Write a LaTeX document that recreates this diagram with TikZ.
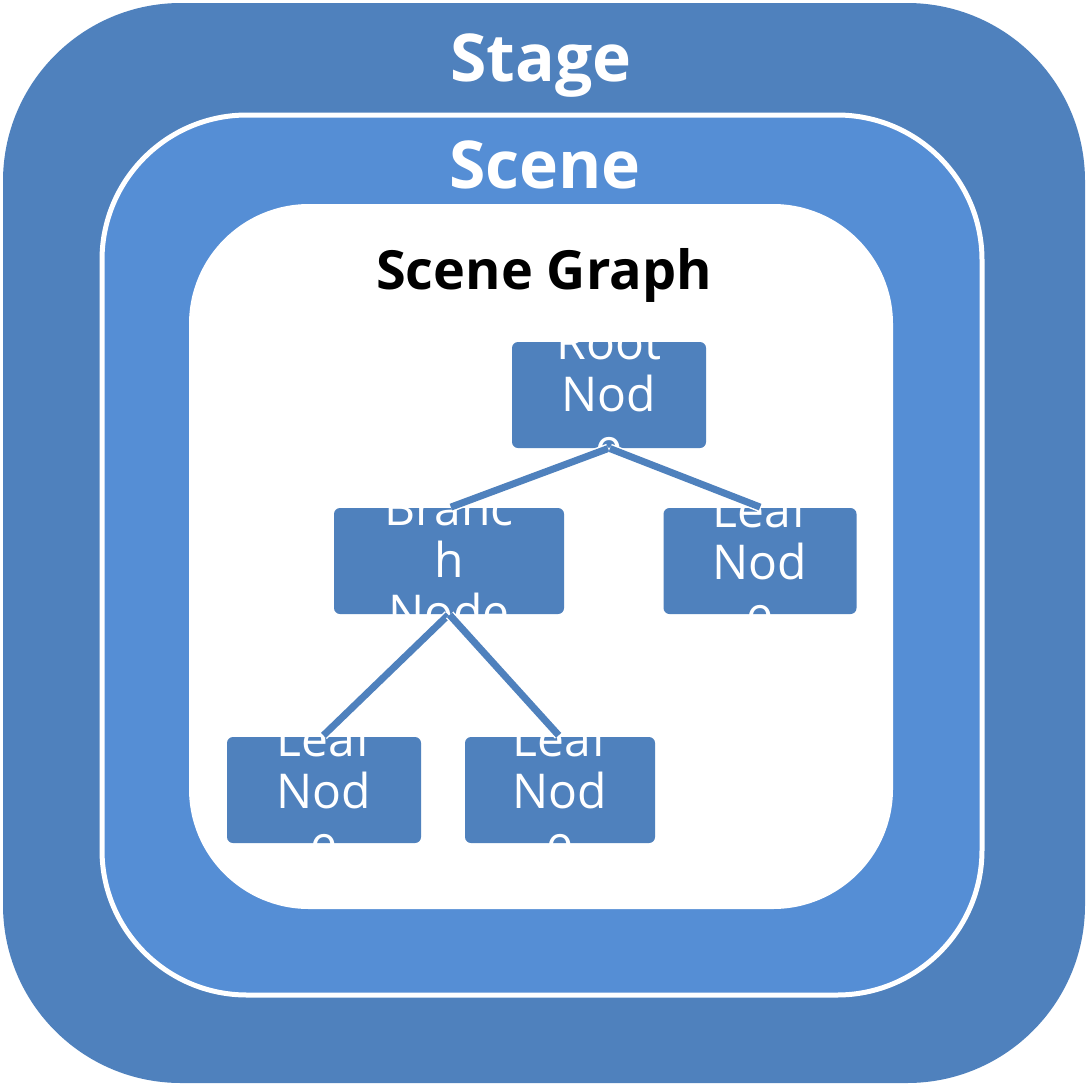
\documentclass[tikz,border=0pt]{standalone}
\usepackage{fontspec}
\setmainfont{Open Sans}
\usepackage{xcolor}
\definecolor{stageBlue}{HTML}{4F81BD}
\definecolor{sceneBlue}{HTML}{558ED5}
\usepackage{tikz}
\usetikzlibrary{positioning,calc}

\begin{document}
\begin{tikzpicture}[
			x=1pt, y=-1pt,
			title/.style={text=white, font=\bfseries\fontsize{66}{66}\selectfont, inner sep=0pt},
			box/.style={rectangle, rounded corners=6pt, fill=stageBlue,
				minimum width=194pt, minimum height=106pt, inner sep=0pt},
			boxtext/.style={text=white, align=center, inner sep=0pt,
				font=\fontsize{48}{52}\selectfont},
			link/.style={draw=stageBlue, line width=7pt, shorten <=1pt, shorten >=2pt,
				preaction={draw=white, line width=10pt}}
			]
			\useasboundingbox (0,0) rectangle (1085,1087);
			% nested frames
			\fill[stageBlue, rounded corners=178pt] (3,3) rectangle (1085,1083);
			\draw[white, line width=5pt, fill=sceneBlue, rounded corners=145pt] (102,115) rectangle (982,995);
			\fill[white, rounded corners=120pt] (189,204) rectangle (893,909);
			\node[title] (stage) at (541,66) {Stage};
			\node[title] (scene) at (545,165) {Scene};
			\node[title, text=black, font=\bfseries\fontsize{54}{54}\selectfont] (graph) at (544,275) {Scene Graph};
			% tree
			\node[box] (root) at (609,395) {};
			\node[box, minimum width=230pt] (branch) at (449,561) {};
			\node[box, minimum width=193pt] (leafR) at (760,561) {};
			\node[box] (leafA) at (324,790) {};
			\node[box, minimum width=190pt] (leafB) at (560,790) {};
			\node[boxtext] at (root) {Root\\Nod\\e};
			\node[boxtext] at (branch) {Branc\\h\\Node};
			\node[boxtext] at (leafR) {Leaf\\Nod\\e};
			\node[boxtext] at (leafA) {Leaf\\Nod\\e};
			\node[boxtext] at (leafB) {Leaf\\Nod\\e};
			\draw[link] (root.south) -- (branch.north);
			\draw[link] (root.south) -- ($(leafR.north)+(2,0)$);
			\draw[link] (branch.south) -- ($(leafA.north)+(-2,0)$);
			\draw[link] (branch.south) -- (leafB.north);
		\end{tikzpicture}
\end{document}
